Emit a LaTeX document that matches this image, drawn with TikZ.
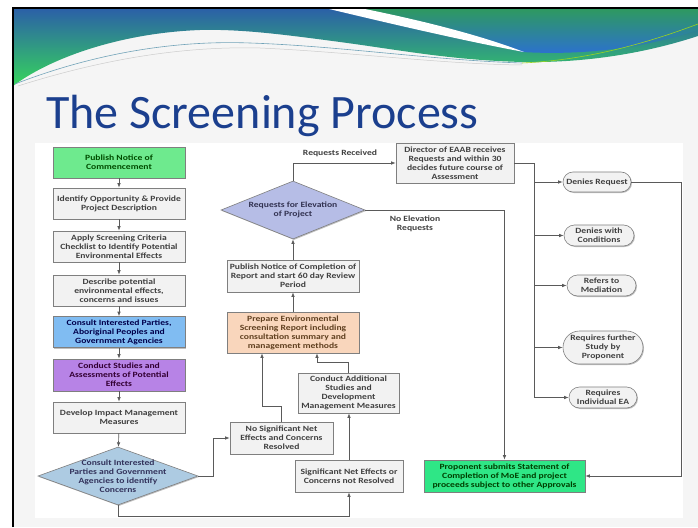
\documentclass[tikz,border=0pt]{standalone}
\usepackage{fontspec}
\setmainfont{Carlito}
\newfontfamily\flowfont[FakeStretch=1.2]{Carlito}
\usetikzlibrary{arrows.meta,shapes.geometric,shapes.misc,shadows}

\definecolor{hdrblue}{HTML}{2B5FA8}
\definecolor{hdrgreen}{HTML}{36D55C}
\definecolor{hdrmid}{HTML}{2C6FD4}
\definecolor{hdrtop}{HTML}{2E9A5E}
\definecolor{titleblue}{HTML}{1B3F8E}
\definecolor{slidebg}{HTML}{F5F5F5}
\definecolor{boxgray}{HTML}{F2F2F2}
\definecolor{edgegray}{HTML}{7F7F7F}
\definecolor{linegray}{HTML}{5A5A5A}
\definecolor{txtgray}{HTML}{404040}
\definecolor{startgreen}{HTML}{6EEA8E}
\definecolor{consblue}{HTML}{80BCF2}
\definecolor{studpurple}{HTML}{B783E6}
\definecolor{prepor}{HTML}{F9D6BC}
\definecolor{diablue}{HTML}{ADCBE2}
\definecolor{dialav}{HTML}{B6BDE6}
\definecolor{endgreen}{HTML}{2FE686}

\tikzset{
  box/.style={draw=edgegray, fill=boxgray, line width=0.6pt, inner sep=1pt,
    align=center, text=txtgray, font=\flowfont\bfseries\fontsize{8}{9}\selectfont,
    drop shadow={shadow xshift=1pt, shadow yshift=-1pt, opacity=0.25, fill=black}},
  leftbox/.style={box, minimum width=132pt, minimum height=31pt},
  oval/.style={box, rounded rectangle, minimum height=21pt},
  decide/.style={diamond, draw=edgegray, line width=0.6pt, inner sep=0pt,
    drop shadow={shadow xshift=1pt, shadow yshift=-1pt, opacity=0.25, fill=black}},
  txt/.style={align=center, text=txtgray, inner sep=0pt,
    font=\flowfont\bfseries\fontsize{8}{9}\selectfont},
  wire/.style={draw=linegray, line width=0.7pt},
  arr/.style={wire, -{Latex[length=4.5pt,width=3.5pt]}}
}

\begin{document}
\begin{tikzpicture}[x=1pt,y=-1pt]
\useasboundingbox (0,0) rectangle (698,527);
% slide
\fill[white] (0,0) rectangle (698,527);
\fill[slidebg] (13,8) rectangle (698,527);
% header waves
\shade[top color=hdrblue, bottom color=hdrgreen]
  (13,8) -- (698,8) -- (698,36)
  .. controls (640,55) and (580,63) .. (522,62)
  .. controls (450,60) and (400,50) .. (340,42)
  .. controls (280,34) and (240,29) .. (200,30)
  .. controls (120,33) and (50,58) .. (13,86) -- cycle;
\shade[top color=hdrtop, bottom color=hdrmid]
  (330,8) .. controls (400,18) and (470,36) .. (522,52)
  .. controls (590,56) and (650,46) .. (698,30) -- (698,8) -- cycle;
\fill[white] (325,8) -- (360,8) .. controls (420,20) and (480,35) .. (524,52)
  .. controls (470,42) and (400,26) .. (325,8) -- cycle;
\draw[cyan!40!gray, line width=0.6pt] (15,84) .. controls (90,55) and (170,40) .. (250,43)
  .. controls (340,46) and (430,60) .. (522,63);
\draw[gray!40, line width=0.5pt] (18,86) .. controls (100,60) and (180,46) .. (260,48)
  .. controls (350,52) and (440,64) .. (522,65);
\draw[yellow!60!green, line width=0.6pt] (522,63) .. controls (590,60) and (650,42) .. (698,24);
% frame
\draw[black, line width=1.5pt] (13,527) -- (13,8) -- (698,8);
% title
\node[anchor=base west, inner sep=0pt, text=titleblue,
  font=\fontsize{48}{50}\selectfont] (title) at (46,128) {The Screening Process};
% flowchart area
\fill[white] (35,143) rectangle (683,518);

% left column
\node[leftbox, fill=startgreen, text=green!30!black] (pubc) at (119,162.5) {Publish Notice of\\Commencement};
\node[leftbox] (ident) at (119,203.5) {Identify Opportunity \& Provide\\Project Description};
\node[leftbox] (apply) at (119,246.5) {Apply Screening Criteria\\Checklist to Identify Potential\\Environmental Effects};
\node[leftbox] (descr) at (119,290.5) {Describe potential\\environmental effects,\\concerns and issues};
\node[leftbox, fill=consblue, text=blue!30!black] (cons) at (119,332) {Consult Interested Parties,\\Aboriginal Peoples and\\Government Agencies};
\node[leftbox, fill=studpurple, text=violet!40!black, minimum height=32pt] (stud) at (119,375) {Conduct Studies and\\Assessments of Potential\\Effects};
\node[leftbox] (devel) at (119,417.5) {Develop Impact Management\\Measures};
\node[decide, fill=diablue, minimum width=160pt, minimum height=58pt] (dia1) at (118,476) {};
\node[txt, text=blue!20!black!80] (dia1txt) at (dia1) {Consult Interested\\Parties and Government\\Agencies to identify\\Concerns};

% middle column
\node[box, minimum width=103pt, minimum height=32pt] (nosig) at (281.5,438) {No Significant Net\\Effects and Concerns\\Resolved};
\node[box, minimum width=108pt, minimum height=32pt] (sig) at (349,476) {Significant Net Effects or\\Concerns not Resolved};
\node[box, minimum width=101pt, minimum height=40pt] (addst) at (348.5,393) {Conduct Additional\\Studies and\\Development\\Management Measures};
\node[box, fill=prepor, text=brown!50!black, minimum width=132pt, minimum height=41pt] (prep) at (293,332.5) {Prepare Environmental\\Screening Report including\\consultation summary and\\management methods};
\node[box, minimum width=132pt, minimum height=32pt] (pubr) at (293,276) {Publish Notice of Completion of\\Report and start 60 day Review\\Period};
\node[decide, fill=dialav, minimum width=144pt, minimum height=58pt] (dia2) at (293,210) {};
\node[txt, text=blue!15!black!80] (dia2txt) at (dia2) {Requests for Elevation\\of Project};

% right part
\node[box, minimum width=118pt, minimum height=40pt] (dir) at (455,163) {Director of EAAB receives\\Requests and within 30\\decides future course of\\Assessment};
\node[box, fill=endgreen, text=green!25!black, minimum width=161pt, minimum height=32pt] (propo) at (504.5,476) {Proponent submits Statement of\\Completion of MoE and project\\proceeds subject to other Approvals};
\node[oval, minimum width=70pt, minimum height=20pt] (denr) at (597,182) {Denies Request};
\node[oval, minimum width=72pt] (dcond) at (599,235.5) {Denies with\\Conditions};
\node[oval, minimum width=71pt] (refm) at (601.5,285.5) {Refers to\\Mediation};
\node[oval, minimum width=82pt, minimum height=33pt] (reqs) at (603,347.5) {Requires further\\Study by\\Proponent};
\node[oval, minimum width=70pt] (reqi) at (603,397.5) {Requires\\Individual EA};

% labels
\node[txt] (reqrec) at (340,153) {Requests Received};
\node[txt] (noelev) at (415,223.5) {No Elevation\\Requests};

% connectors
\draw[arr] (pubc) -- (ident);
\draw[arr] (ident) -- (apply);
\draw[arr] (apply) -- (descr);
\draw[arr] (descr) -- (cons);
\draw[arr] (cons) -- (stud);
\draw[arr] (stud) -- (devel);
\draw[arr] (devel) -- (dia1);
\draw[arr] (dia1.east) -- ++(15,0) |- (nosig.west);
\draw[arr] (dia1.south) -- ++(0,11) -| (sig.south);
\draw[arr] (sig.north) -- (sig.north |- addst.south);
\draw[arr] (nosig.north) -- ++(0,-15) -| ([xshift=-31pt]prep.south);
\draw[arr] (addst.north) -- ++(0,-10) -| ([xshift=24pt]prep.south);
\draw[arr] (prep) -- (pubr);
\draw[arr] (pubr) -- (dia2);
\draw[arr] (dia2.north) |- (dir.west);
\draw[arr] (dia2.east) -| (propo.north);
\coordinate (bus) at (534,163);
\draw[wire] (dir.east) -- (bus) -- (bus |- reqi.west);
\draw[arr] (bus |- denr.west) -- (denr.west);
\draw[arr] (bus |- dcond.west) -- (dcond.west);
\draw[arr] (bus |- refm.west) -- (refm.west);
\draw[arr] (bus |- reqs.west) -- (reqs.west);
\draw[arr] (bus |- reqi.west) -- (reqi.west);
\draw[arr] (denr.east) -- ++(50,0) |- (propo.east);
\end{tikzpicture}
\end{document}
